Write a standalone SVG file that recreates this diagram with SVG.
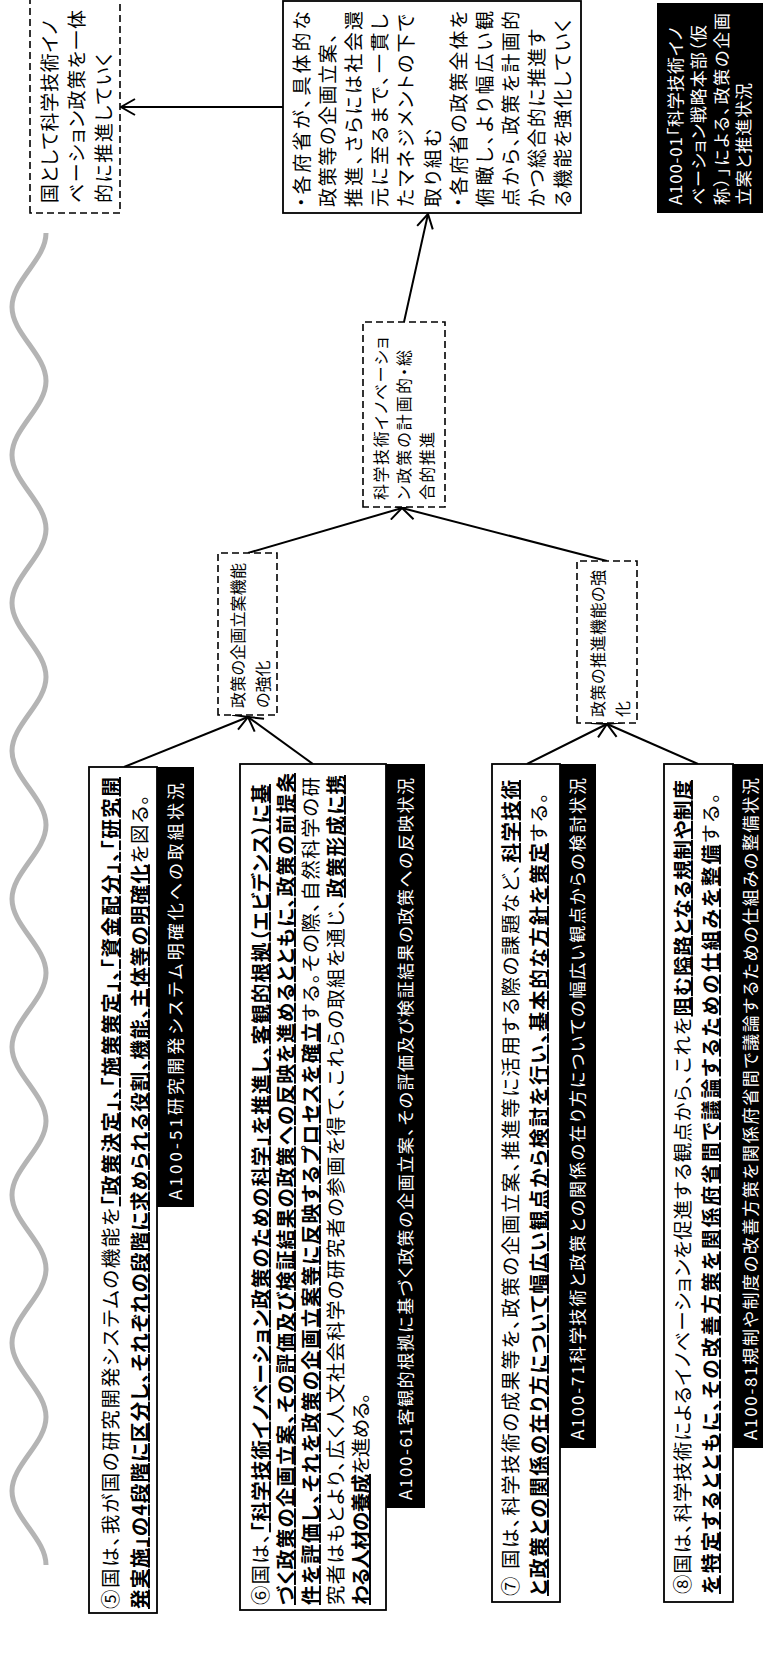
<svg xmlns="http://www.w3.org/2000/svg" width="763" height="1679" viewBox="0 0 763 1679">
<defs>
<style>
text{font-family:"Noto Sans CJK JP","Noto Sans",sans-serif;fill:#000;font-feature-settings:"palt" 1;}
.big{font-size:19.5px}
.lbl{font-size:17px;fill:#fff}
.mid{font-size:19px}
.sm{font-size:16px}
.b{font-weight:700;text-decoration:underline}
.box{fill:#fff;stroke:#000;stroke-width:1.8}
.dash{fill:#fff;stroke:#000;stroke-width:1.6;stroke-dasharray:7 4}
.blk{fill:#000}
.conn{stroke:#000;stroke-width:2;fill:none;marker-end:url(#ah)}
.wave{stroke:#b4b4b4;stroke-width:5;fill:none}
</style>
<marker id="ah" markerUnits="userSpaceOnUse" markerWidth="18" markerHeight="18" viewBox="0 0 18 18" refX="16" refY="9" orient="auto">
<path d="M2,1 L16,9 L2,17" fill="none" stroke="#000" stroke-width="2"/>
</marker>
</defs>
<rect width="763" height="1679" fill="#fff"/>
<g transform="translate(0 1679) rotate(-90)">
<path class="wave" d="M114,46 C140.6,46 161.4,12 188,12 S235.4,46 262,46 S309.4,12 336,12 S383.4,46 410,46 S457.4,12 484,12 S531.4,46 558,46 S605.4,12 632,12 S679.4,46 706,46 S753.4,12 780,12 S827.4,46 854,46 S901.4,12 928,12 S975.4,46 1002,46 S1049.4,12 1076,12 S1123.4,46 1150,46 S1197.4,12 1224,12 S1271.4,46 1298,46 S1345.4,12 1372,12 S1419.4,46 1446,46"/>

<g id="connectors">
<line class="conn" x1="912" y1="124" x2="962" y2="248"/>
<line class="conn" x1="915" y1="313" x2="962" y2="248"/>
<line class="conn" x1="1126" y1="248" x2="1171" y2="402"/>
<line class="conn" x1="915" y1="527" x2="955" y2="607"/>
<line class="conn" x1="915" y1="698" x2="955" y2="607"/>
<line class="conn" x1="1118" y1="607" x2="1171" y2="402"/>
<line class="conn" x1="1357" y1="404" x2="1465" y2="428"/>
<line class="conn" x1="1572" y1="284" x2="1572" y2="121"/>
</g>

<g id="n5">
<rect class="box" x="66" y="89" width="846" height="68"/>
<text class="big" x="70" y="118" textLength="832" lengthAdjust="spacing">⑤国は、我が国の研究開発システムの機能を<tspan class="b">「政策決定」、「施策策定」、「資金配分」、「研究開</tspan></text>
<text class="big" x="70" y="147" textLength="814" lengthAdjust="spacing"><tspan class="b">発実施」の4段階に区分し、それぞれの段階に求められる役割、機能、主体等の明確化</tspan>を図る。</text>
</g>
<g id="l5">
<rect class="blk" x="472" y="157" width="440" height="37"/>
<text class="lbl" x="479" y="182" textLength="417" lengthAdjust="spacing">A100-51研究開発システム明確化への取組状況</text>
</g>

<g id="n6">
<rect class="box" x="69" y="240" width="846" height="146"/>
<text class="big" x="74" y="268" textLength="821" lengthAdjust="spacing">⑥国は、<tspan class="b">「科学技術イノベーション政策のための科学」を推進し、客観的根拠（エビデンス）に基</tspan></text>
<text class="big" x="74" y="293" textLength="832" lengthAdjust="spacing"><tspan class="b">づく政策の企画立案、その評価及び検証結果の政策への反映を進めるとともに、政策の前提条</tspan></text>
<text class="big" x="74" y="318" textLength="828" lengthAdjust="spacing"><tspan class="b">件を評価し、それを政策の企画立案等に反映するプロセスを確立</tspan>する。その際、自然科学の研</text>
<text class="big" x="74" y="343" textLength="830" lengthAdjust="spacing">究者はもとより、広く人文社会科学の研究者の参画を得て、これらの取組を通じ、<tspan class="b">政策形成に携</tspan></text>
<text class="big" x="74" y="368" textLength="212" lengthAdjust="spacing"><tspan class="b">わる人材の養成</tspan>を進める。</text>
</g>
<g id="l6">
<rect class="blk" x="171" y="386" width="744" height="39"/>
<text class="lbl" x="179" y="412" textLength="722" lengthAdjust="spacing">A100-61客観的根拠に基づく政策の企画立案、その評価及び検証結果の政策への反映状況</text>
</g>

<g id="n7">
<rect class="box" x="77" y="492" width="838" height="68"/>
<text class="big" x="83" y="518" textLength="816" lengthAdjust="spacing">⑦ 国は、科学技術の成果等を、政策の企画立案、推進等に活用する際の課題など、<tspan class="b">科学技術</tspan></text>
<text class="big" x="83" y="546" textLength="803" lengthAdjust="spacing"><tspan class="b">と政策との関係の在り方について幅広い観点から検討を行い、基本的な方針を策定</tspan>する。</text>
</g>
<g id="l7">
<rect class="blk" x="231" y="560" width="684" height="36"/>
<text class="lbl" x="239" y="584" textLength="662" lengthAdjust="spacing">A100-71科学技術と政策との関係の在り方についての幅広い観点からの検討状況</text>
</g>

<g id="n8">
<rect class="box" x="77" y="664" width="838" height="69"/>
<text class="big" x="85" y="690" textLength="814" lengthAdjust="spacing">⑧国は、科学技術によるイノベーションを促進する観点から、これを<tspan class="b">阻む隘路となる規制や制度</tspan></text>
<text class="big" x="85" y="718" textLength="801" lengthAdjust="spacing"><tspan class="b">を特定するとともに、その改善方策を関係府省間で議論するための仕組みを整備</tspan>する。</text>
</g>
<g id="l8">
<rect class="blk" x="231" y="733" width="684" height="37"/>
<text class="lbl" x="239" y="757" textLength="662" lengthAdjust="spacing">A100-81規制や制度の改善方策を関係府省間で議論するための仕組みの整備状況</text>
</g>

<g id="kikaku">
<rect class="dash" x="964" y="218" width="162" height="59"/>
<text class="sm" x="971" y="244" textLength="145" lengthAdjust="spacing">政策の企画立案機能</text>
<text class="sm" x="971" y="269">の強化</text>
</g>

<g id="suishin">
<rect class="dash" x="956" y="577" width="162" height="60"/>
<text class="sm" x="962" y="604" textLength="147" lengthAdjust="spacing">政策の推進機能の強</text>
<text class="sm" x="962" y="629">化</text>
</g>

<g id="keikaku">
<rect class="dash" x="1172" y="363" width="185" height="82"/>
<text class="sm" x="1179" y="387" textLength="163" lengthAdjust="spacing">科学技術イノベーショ</text>
<text class="sm" x="1179" y="410" textLength="150" lengthAdjust="spacing">ン政策の計画的・総</text>
<text class="sm" x="1179" y="433" textLength="68" lengthAdjust="spacing">合的推進</text>
</g>

<g id="kakufusho">
<rect class="box" x="1466" y="283" width="212" height="298"/>
<text class="mid" x="1472" y="309" textLength="196" lengthAdjust="spacing">・各府省が、具体的な</text>
<text class="mid" x="1472" y="335.1" textLength="174" lengthAdjust="spacing">政策等の企画立案、</text>
<text class="mid" x="1472" y="361.2" textLength="196" lengthAdjust="spacing">推進、さらには社会還</text>
<text class="mid" x="1472" y="387.3" textLength="193" lengthAdjust="spacing">元に至るまで、一貫し</text>
<text class="mid" x="1472" y="413.4" textLength="193" lengthAdjust="spacing">たマネジメントの下で</text>
<text class="mid" x="1472" y="439.5" textLength="78" lengthAdjust="spacing">取り組む</text>
<text class="mid" x="1472" y="465.6" textLength="196" lengthAdjust="spacing">・各府省の政策全体を</text>
<text class="mid" x="1472" y="491.7" textLength="196" lengthAdjust="spacing">俯瞰し、より幅広い観</text>
<text class="mid" x="1472" y="517.8" textLength="196" lengthAdjust="spacing">点から、政策を計画的</text>
<text class="mid" x="1472" y="543.9" textLength="178" lengthAdjust="spacing">かつ総合的に推進す</text>
<text class="mid" x="1472" y="570" textLength="188" lengthAdjust="spacing">る機能を強化していく</text>
</g>

<g id="kuni">
<rect class="dash" x="1466" y="30" width="230" height="90"/>
<text class="mid" x="1476" y="57" textLength="183" lengthAdjust="spacing">国として科学技術イノ</text>
<text class="mid" x="1476" y="84" textLength="193" lengthAdjust="spacing">ベーション政策を一体</text>
<text class="mid" x="1476" y="111" textLength="150" lengthAdjust="spacing">的に推進していく</text>
</g>

<g id="a100-01">
<rect class="blk" x="1466" y="657" width="210" height="113"/>
<text class="lbl" x="1474" y="682" textLength="178" lengthAdjust="spacing">A100-01「科学技術イノ</text>
<text class="lbl" x="1474" y="705" textLength="180" lengthAdjust="spacing">ベーション戦略本部（仮</text>
<text class="lbl" x="1474" y="728" textLength="192" lengthAdjust="spacing">称）」による、政策の企画</text>
<text class="lbl" x="1474" y="750" textLength="122" lengthAdjust="spacing">立案と推進状況</text>
</g>
</g>
</svg>
